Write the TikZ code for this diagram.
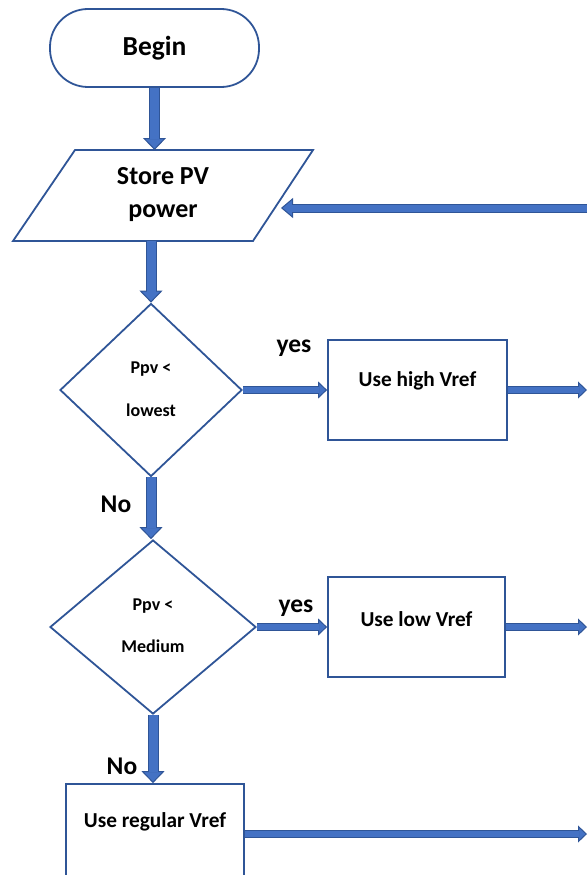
\documentclass[tikz,border=0pt]{standalone}
\usepackage{fontspec}
\setmainfont{Carlito}
\usetikzlibrary{arrows.meta,shapes.geometric}
\definecolor{edge}{HTML}{2F5597}
\definecolor{flow}{HTML}{4472C4}
\tikzset{
  x=1pt, y=-1pt,
  outline/.style={draw=edge, line width=1.8pt},
  txt/.style={font=\bfseries, text=black, inner sep=0pt, align=center},
  % wide block arrows (vertical ones)
  bigout/.style={draw=edge, line width=11pt, -{Triangle[length=12pt,width=23pt,line width=1pt,fill=flow]}},
  bigin/.style={draw=flow, line width=9pt, shorten >=11pt},
  % narrow block arrows (horizontal ones)
  smallout/.style={draw=edge, line width=8pt, -{Triangle[length=9pt,width=17pt,line width=1pt,fill=flow]}},
  smallin/.style={draw=flow, line width=6pt, shorten >=8pt},
  % return arrow
  retout/.style={draw=edge, line width=9pt, -{Triangle[length=12pt,width=20pt,line width=1pt,fill=flow]}},
  retin/.style={draw=flow, line width=7pt, shorten >=11pt},
  branch/.style={txt, font=\fontsize{25.5}{30}\selectfont\bfseries},
  boxtext/.style={txt, font=\fontsize{21.3}{25}\selectfont\bfseries},
}
\begin{document}
\begin{tikzpicture}
\path[use as bounding box] (0,0) rectangle (587,875);
\clip (0,0) rectangle (587,875);

% terminal
\node[outline, rounded corners=38pt, minimum width=209pt, minimum height=78pt,
      txt, font=\fontsize{27.5}{32}\selectfont\bfseries] (begin) at (154.5,48) {Begin};

% input/output parallelogram
\coordinate (stTL) at (75,150);
\coordinate (stTR) at (313,150);
\coordinate (stBR) at (253,241);
\coordinate (stBL) at (13,241);
\draw[outline, line join=miter] (stTL) -- (stTR) -- (stBR) -- (stBL) -- cycle;
\node[txt, font=\fontsize{26}{33}\selectfont\bfseries] (store) at (163,195) {Store PV\\power};
\coordinate (stBot) at (151,241);
\coordinate (stIn) at (281,208);
\coordinate (retStart) at (587,208);

% decisions
\node[diamond, outline, minimum width=182pt, minimum height=173pt, inner sep=0pt] (dia1) at (151,390) {};
\node[txt, font=\fontsize{18}{43}\selectfont\bfseries] (q1) at (151,389) {Ppv <\\lowest};
\node[diamond, outline, minimum width=206pt, minimum height=174pt, inner sep=0pt] (dia2) at (153,627) {};
\node[txt, font=\fontsize{18}{42}\selectfont\bfseries] (q2) at (153,626) {Ppv <\\Medium};

% process boxes
\node[outline, minimum width=179pt, minimum height=100pt] (box1) at (417.5,390) {};
\node[boxtext] (t1) at (417.5,381) {Use high Vref};
\node[outline, minimum width=177pt, minimum height=100pt] (box2) at (416.5,627) {};
\node[boxtext] (t2) at (416.5,619) {Use low Vref};
\node[outline, minimum width=178pt, minimum height=100pt] (box3) at (155,834) {};
\node[boxtext] (t3) at (155,822) {Use regular Vref};

\coordinate (out1) at (587,390);
\coordinate (out2) at (587,627);
\coordinate (out3) at (587,834);

% branch labels
\node[branch] (yes1) at (294,348) {yes};
\node[branch] (yes2) at (296,608) {yes};
\node[branch] (no1) at (116,504) {No};
\node[branch] (no2) at (122,766) {No};

% vertical flow
\draw[bigout] (begin.south) -- (begin.south |- stTL);
\draw[bigin]  (begin.south) -- (begin.south |- stTL);
\draw[bigout] (stBot) -- (dia1.north);
\draw[bigin]  (stBot) -- (dia1.north);
\draw[bigout] (dia1.south) -- (dia1.south |- dia2.north);
\draw[bigin]  (dia1.south) -- (dia1.south |- dia2.north);
\draw[bigout] (dia2.south) -- (dia2.south |- box3.north);
\draw[bigin]  (dia2.south) -- (dia2.south |- box3.north);

% horizontal flow
\draw[smallout] (dia1.east) -- (box1.west);
\draw[smallin]  (dia1.east) -- (box1.west);
\draw[smallout] (box1.east) -- (out1);
\draw[smallin]  (box1.east) -- (out1);
\draw[smallout] (dia2.east) -- (box2.west);
\draw[smallin]  (dia2.east) -- (box2.west);
\draw[smallout] (box2.east) -- (out2);
\draw[smallin]  (box2.east) -- (out2);
\draw[smallout] (box3.east) -- (out3);
\draw[smallin]  (box3.east) -- (out3);

% return into the input step
\draw[retout] (retStart) -- (stIn);
\draw[retin]  (retStart) -- (stIn);
\end{tikzpicture}
\end{document}
